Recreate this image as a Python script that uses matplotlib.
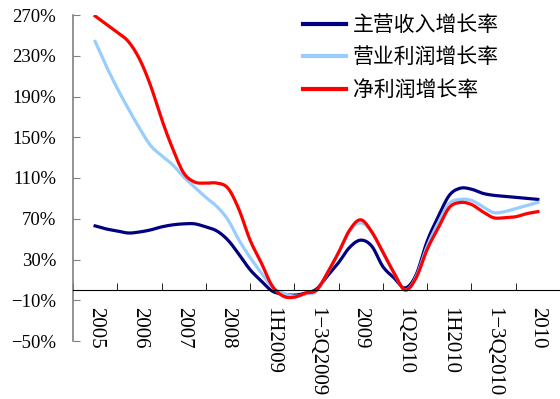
import numpy as np
import matplotlib
matplotlib.use("Agg")
import matplotlib.pyplot as plt

# category labels on the x axis
categories = ["2005", "2006", "2007", "2008", "1H2009", "1\u22123Q2009",
              "2009", "1Q2010", "1H2010", "1\u22123Q2010", "2010"]

# values, four readings per category step (%)
revenue_growth = [63, 60, 58, 56, 57, 59, 62, 64, 65, 65,
                  62, 58, 49, 35, 20, 9, -1, -4, -5, -3,
                  1, 14, 27, 42, 49, 43, 23, 12, 2, 15,
                  48, 72, 93, 100, 99, 95, 93, 92, 91, 90, 89]
op_profit_growth = [244, 220, 198, 178, 159, 142, 132, 123, 111, 101,
                    91, 82, 69, 49, 32, 17, 3, -3, -6, -4,
                    -1, 17, 37, 58, 66, 57, 37, 17, 0, 13,
                    43, 66, 85, 89, 88, 82, 76, 77, 80, 83, 86]
net_profit_growth = [269, 261, 253, 244, 227, 201, 168, 139, 115, 106,
                     105, 105, 100, 79, 49, 27, 4, -6, -7, -3,
                     0, 17, 37, 59, 69, 57, 37, 17, 0, 12,
                     40, 61, 81, 86, 84, 77, 71, 71, 72, 75, 77]
series_names = ["主营收入增长率", "营业利润增长率", "净利润增长率"]

yticks = list(range(-50, 271, 40))


def smooth(xs, ys, n=8):
    """catmull-rom through the points, like excel's smoothed line"""
    xs = np.asarray(xs, float)
    ys = np.asarray(ys, float)
    px = np.concatenate([[2 * xs[0] - xs[1]], xs, [2 * xs[-1] - xs[-2]]])
    py = np.concatenate([[2 * ys[0] - ys[1]], ys, [2 * ys[-1] - ys[-2]]])
    t = np.linspace(0, 1, n, endpoint=False)
    outx, outy = [], []
    for i in range(1, len(px) - 2):
        for p, out in ((px, outx), (py, outy)):
            p0, p1, p2, p3 = p[i - 1], p[i], p[i + 1], p[i + 2]
            out.extend(0.5 * (2 * p1 + (-p0 + p2) * t
                              + (2 * p0 - 5 * p1 + 4 * p2 - p3) * t ** 2
                              + (-p0 + 3 * p1 - 3 * p2 + p3) * t ** 3))
    outx.append(xs[-1])
    outy.append(ys[-1])
    return outx, outy


fig = plt.figure(figsize=(5.6, 3.99), dpi=100)
ax = fig.add_axes([73 / 560, 1 - 341 / 399, 487 / 560, 326 / 399])

x = np.arange(len(revenue_growth)) / 4.0
colors = ["#000080", "#99ccff", "#ff0000"]
for ys, c, name in zip([revenue_growth, op_profit_growth, net_profit_growth],
                       colors, series_names):
    sx, sy = smooth(x, ys)
    ax.plot(sx, sy, color=c, lw=2.3, label=name, solid_joinstyle="round")

ax.set_xlim(-0.5, len(categories) - 0.5)
ax.set_ylim(-50, 270)

# spines: x axis through zero, y axis gray
ax.spines["top"].set_visible(False)
ax.spines["right"].set_visible(False)
ax.spines["bottom"].set_position(("data", 0))
ax.spines["bottom"].set_color("black")
ax.spines["left"].set_color("#808080")
ax.spines["left"].set_linewidth(1.2)

ax.set_yticks(yticks)
ax.set_yticklabels([f"{v}%".replace("-", "\u2212") for v in yticks],
                   family="Liberation Serif", fontsize=13.5)
ax.tick_params(axis="y", direction="in", length=5, color="#808080", pad=12)

ax.set_xticks(range(len(categories)))
ax.set_xticklabels(categories, rotation=-90, va="top", ha="center",
                   family="Liberation Serif", fontsize=15)
ax.set_xticks(np.arange(-0.5, len(categories), 1.0), minor=True)
ax.tick_params(axis="x", which="major", length=0, pad=12)
ax.tick_params(axis="x", which="minor", direction="in", length=5, color="black")

leg = ax.legend(loc="upper left", bbox_to_anchor=(303 / 560, 1 - 14 / 399),
                bbox_transform=fig.transFigure, frameon=False,
                prop={"family": ["Noto Sans CJK SC", "DejaVu Sans"], "size": 15},
                handlelength=2.05, handletextpad=0.35, labelspacing=0.5,
                borderpad=0, borderaxespad=0)
for line in leg.get_lines():
    line.set_linewidth(3)

fig.savefig("out.png", dpi=100)
